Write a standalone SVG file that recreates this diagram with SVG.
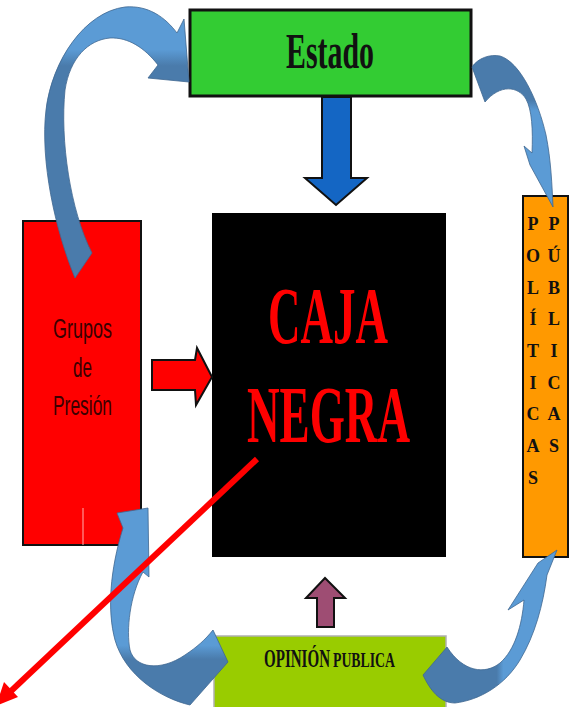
<svg xmlns="http://www.w3.org/2000/svg" width="577" height="707" viewBox="0 0 577 707">
<defs>
<style>
.serif{font-family:"Liberation Serif","Times New Roman",serif;font-weight:bold}
.sans{font-family:"Liberation Sans",Arial,sans-serif}
.curve{stroke:#3f6790;stroke-width:0.8}
.vl{font-family:"Liberation Serif","Times New Roman",serif;font-weight:bold;font-size:18px;fill:#111;text-anchor:middle}
</style>
<linearGradient id="g1" gradientUnits="userSpaceOnUse" x1="0" y1="278" x2="0" y2="6">
<stop offset="0" stop-color="#4a7bab"/><stop offset="0.78" stop-color="#4a7bab"/><stop offset="0.84" stop-color="#5b9bd5"/><stop offset="1" stop-color="#5b9bd5"/>
</linearGradient>
<linearGradient id="g2" gradientUnits="userSpaceOnUse" x1="0" y1="56" x2="0" y2="208">
<stop offset="0" stop-color="#4a7bab"/><stop offset="0.29" stop-color="#4a7bab"/><stop offset="0.36" stop-color="#5b9bd5"/><stop offset="1" stop-color="#5b9bd5"/>
</linearGradient>
<linearGradient id="g3" gradientUnits="userSpaceOnUse" x1="423" y1="0" x2="557" y2="0">
<stop offset="0" stop-color="#4a7bab"/><stop offset="0.55" stop-color="#4a7bab"/><stop offset="0.6" stop-color="#5b9bd5"/><stop offset="1" stop-color="#5b9bd5"/>
</linearGradient>
<linearGradient id="g4" gradientUnits="userSpaceOnUse" x1="0" y1="508" x2="0" y2="707">
<stop offset="0" stop-color="#5b9bd5"/><stop offset="0.69" stop-color="#5b9bd5"/><stop offset="0.76" stop-color="#4a7bab"/><stop offset="1" stop-color="#4a7bab"/>
</linearGradient>
</defs>
<rect width="577" height="707" fill="#fff"/>

<g id="grupos">
<rect x="23" y="221" width="118" height="324" fill="#ff0000" stroke="#111" stroke-width="2"/>
<line x1="83" y1="508" x2="83" y2="545" stroke="#ffb0b0" stroke-width="1"/>
<text class="sans" font-size="27" fill="#3a0000" x="53" y="338" textLength="59" lengthAdjust="spacingAndGlyphs">Grupos</text>
<text class="sans" font-size="27" fill="#3a0000" x="73" y="377" textLength="19" lengthAdjust="spacingAndGlyphs">de</text>
<text class="sans" font-size="27" fill="#3a0000" x="53" y="415" textLength="59" lengthAdjust="spacingAndGlyphs">Presión</text>
</g>

<g id="estado">
<rect x="190" y="10" width="281" height="86" fill="#33cc33" stroke="#111" stroke-width="3"/>
<text class="serif" font-size="50" fill="#111" x="286" y="68" textLength="88" lengthAdjust="spacingAndGlyphs">Estado</text>
</g>

<g id="caja">
<rect x="212" y="213" width="234" height="344" fill="#000"/>
<text class="serif" font-size="80" fill="#ff0000" x="268" y="343" textLength="120" lengthAdjust="spacingAndGlyphs">CAJA</text>
<text class="serif" font-size="80" fill="#ff0000" x="247" y="442" textLength="163" lengthAdjust="spacingAndGlyphs">NEGRA</text>
</g>

<g id="politicas">
<rect x="523" y="196" width="45" height="361" fill="#ff9900" stroke="#111" stroke-width="2"/>
<text class="vl"><tspan x="533" y="230">P</tspan><tspan x="533" y="262">O</tspan><tspan x="533" y="294">L</tspan><tspan x="533" y="325">Í</tspan><tspan x="533" y="357">T</tspan><tspan x="533" y="389">I</tspan><tspan x="533" y="420">C</tspan><tspan x="533" y="452">A</tspan><tspan x="533" y="484">S</tspan></text>
<text class="vl"><tspan x="554" y="230">P</tspan><tspan x="554" y="262">Ú</tspan><tspan x="554" y="294">B</tspan><tspan x="554" y="325">L</tspan><tspan x="554" y="357">I</tspan><tspan x="554" y="389">C</tspan><tspan x="554" y="420">A</tspan><tspan x="554" y="452">S</tspan></text>
</g>

<g id="opinion">
<rect x="214" y="636" width="232" height="80" fill="#99cc00" stroke="#b0b0b0" stroke-width="1.5"/>
<text class="serif" font-size="25" fill="#111" x="264" y="667" textLength="66" lengthAdjust="spacingAndGlyphs">OPINIÓN</text>
<text class="serif" font-size="20" fill="#111" x="333" y="667" textLength="62" lengthAdjust="spacingAndGlyphs">PUBLICA</text>
</g>

<g id="connectors">
<polygon points="322,97 351,97 351,178 367,178 336,205 305,178 322,178" fill="#1466c4" stroke="#111" stroke-width="2"/>
<polygon points="152,360 195,360 197,348 212,377 196,405 195,390 152,390" fill="#ff0000" stroke="#111" stroke-width="2"/>
<polygon points="317,627 334,627 334,598 345,598 325,578 306,598 317,598" fill="#9e4d73" stroke="#111" stroke-width="2"/>
<path class="curve" fill="url(#g1)" d="M75,278 C55,230 40,160 46,110 C52,60 85,12 125,7 C148,5 165,17 177,33 L184,19 L189,82 L148,78 L158,65 C145,48 128,37 110,38 C88,40 70,58 65,90 C60,140 70,210 92,253 Z"/>
<path class="curve" fill="url(#g2)" d="M472,67 C478,58 490,54 500,56 C520,62 538,100 546,135 C551,160 552,185 553,207 L530,165 L524,146 L532,153 C533,130 532,110 526,99 C518,86 500,84 485,102 Z"/>
<path class="curve" fill="url(#g3)" d="M423,675 C430,690 440,703 455,703 C480,700 505,685 520,660 C535,635 543,605 547,575 L557,550 L538,563 L508,610 L524,600 C522,625 515,650 500,663 C485,675 463,672 447,647 Z"/>
<path class="curve" fill="url(#g4)" d="M148,508 L149,577 L143,572 C130,595 126,630 130,650 C135,668 160,672 185,655 C197,647 205,640 213,630 L228,662 L190,705 C160,698 125,675 115,640 C107,610 110,570 123,528 L117,513 Z"/>
<line x1="257" y1="459" x2="10" y2="692" stroke="#ff0000" stroke-width="6"/>
<polygon points="-4,706 4,682 18,697" fill="#ff0000"/>
</g>
</svg>
